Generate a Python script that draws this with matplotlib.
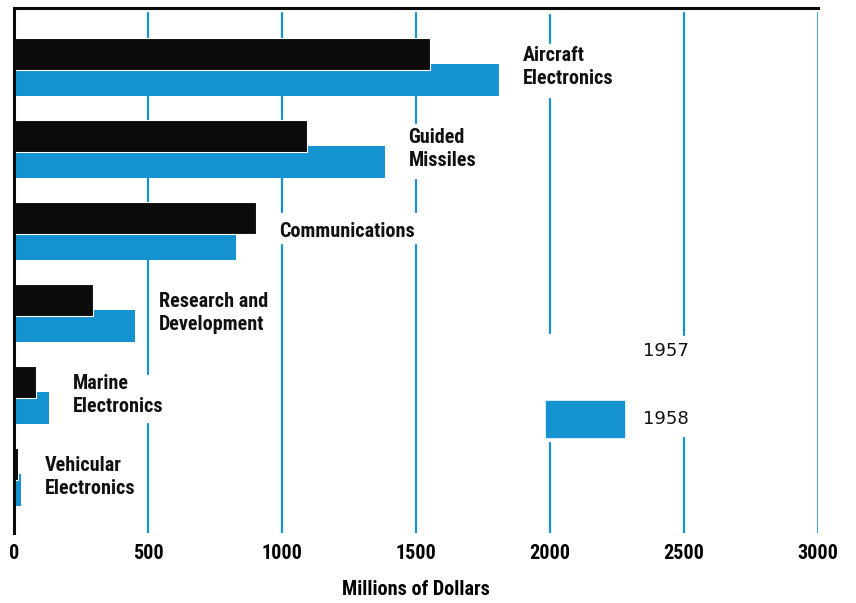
import matplotlib
matplotlib.use("Agg")
import matplotlib.pyplot as plt
from matplotlib import font_manager
from matplotlib.patches import Rectangle

# prefer a narrow sans for the labels if one is available
installed = {f.name for f in font_manager.fontManager.ttflist}
narrow = [n for n in ('Roboto Condensed', 'DejaVu Sans Condensed',
                      'Liberation Sans Narrow', 'Open Sans Condensed') if n in installed]
plt.rcParams['font.family'] = narrow + ['DejaVu Sans']
label_size = 14.5 if narrow else 12

# Electronics sales by market, millions of dollars
categories = ["Aircraft\nElectronics", "Guided\nMissiles", "Communications",
              "Research and\nDevelopment", "Marine\nElectronics", "Vehicular\nElectronics"]
sales_1957 = [1552, 1093, 903, 295, 82, 15]
sales_1958 = [1810, 1384, 828, 452, 131, 26]
x_ticks = [0, 500, 1000, 1500, 2000, 2500, 3000]
years = ["1957", "1958"]

BLACK = "#0b0b0b"
BLUE = "#1592d0"

fig = plt.figure(figsize=(8.56, 6.03), dpi=100)
ax = fig.add_axes([14 / 856, 1 - 533 / 603, 804 / 856, 525 / 603])

bar_h = 0.39
offset = 0.317
rows = range(len(categories))

# gridlines, interrupted where the labels sit
grid_segments = {
    500: [(-0.50, 3.90), (4.51, 5.84)],
    1000: [(-0.50, 1.93), (2.33, 5.84)],
    1500: [(-0.50, 0.84), (1.54, 1.93), (2.33, 5.84)],
    2000: [(-0.48, -0.13), (0.55, 3.40), (4.74, 5.84)],
    2500: [(-0.50, 3.43), (4.68, 5.84)],
}
for xv, segs in grid_segments.items():
    for y0, y1 in segs:
        ax.plot([xv, xv], [y0, y1], color=BLUE, lw=1.6, solid_capstyle='round', zorder=1)
ax.plot([3000, 3000], [-0.50, 5.84], color=BLUE, lw=1.2, zorder=1)

# bars: 1958 behind, 1957 on top
ax.barh([r + offset for r in rows], sales_1958, height=bar_h, color=BLUE,
        left=0, zorder=2)
ax.barh(list(rows), sales_1957, height=bar_h, color=BLACK, edgecolor='white',
        linewidth=0.8, left=0, zorder=3)

# category labels to the right of each pair
for r, name, a, b in zip(rows, categories, sales_1957, sales_1958):
    ax.text(max(a, b) + 88, r + offset / 2, name, ha='left', va='center',
            fontsize=label_size, fontweight='bold', color='#111111', linespacing=1.25,
            zorder=4)

# legend
legend_font = dict(fontsize=13, color='#111111', family='DejaVu Sans')
ax.text(2347, 3.62, years[0], ha='left', va='center', **legend_font)
ax.add_patch(Rectangle((1985, 4.45 - 0.22), 291, 0.44, color=BLUE, zorder=3))
ax.text(2347, 4.45, years[1], ha='left', va='center', **legend_font)

ax.set_xlim(0, 3000)
ax.set_ylim(5.84, -0.561)
ax.set_xticks(x_ticks)
ax.set_xticklabels([str(t) for t in x_ticks], fontsize=label_size, fontweight='bold')
ax.set_yticks([])
ax.tick_params(axis='x', length=0, pad=8)
ax.set_xlabel("Millions of Dollars", fontsize=label_size, fontweight='bold', labelpad=12)

for side in ('right', 'bottom'):
    ax.spines[side].set_visible(False)
for side in ('top', 'left'):
    ax.spines[side].set_linewidth(2.2)
    ax.spines[side].set_color(BLACK)
    ax.spines[side].set_zorder(5)
ax.set_facecolor('white')

fig.savefig("out.png", dpi=100, facecolor='white')
